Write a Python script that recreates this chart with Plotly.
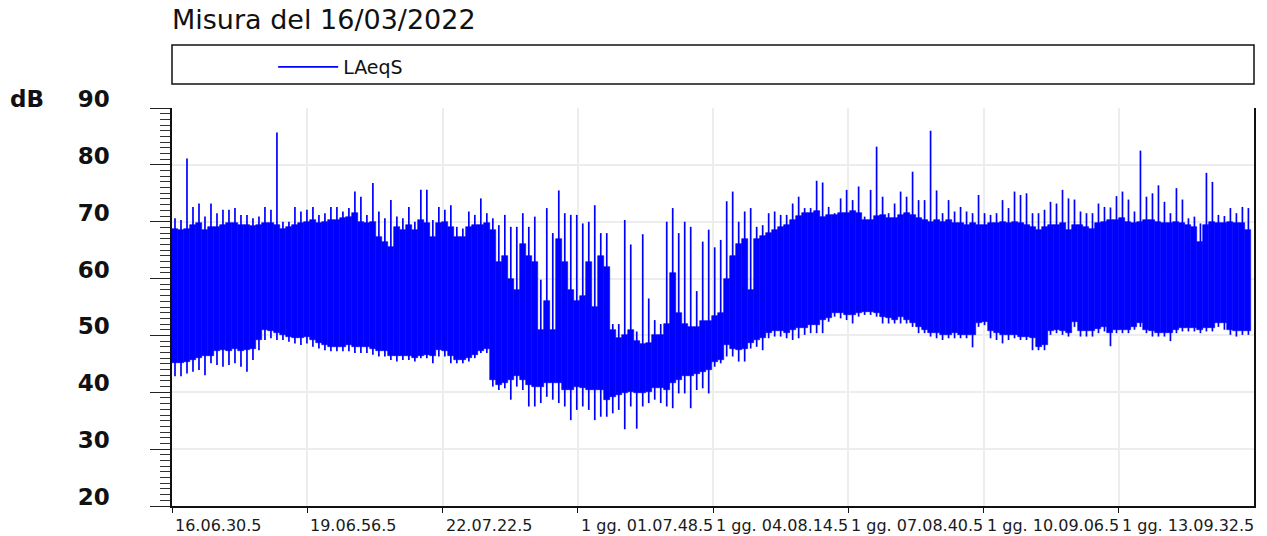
import plotly.graph_objects as go

# ---------------- data ----------------
title_text = "Misura del 16/03/2022"
series_name = "LAeqS"
y_unit = "dB"
start_label = "16.06.30.5"
bin_seconds = 480  # each value summarises an 8-minute slice of the LAeqS record

tick_labels = ["16.06.30.5", "19.06.56.5", "22.07.22.5", "1 gg. 01.07.48.5",
               "1 gg. 04.08.14.5", "1 gg. 07.08.40.5", "1 gg. 10.09.06.5",
               "1 gg. 13.09.32.5"]

# highest LAeqS reached within each slice (dB)
peak = [
    70.6, 70.3, 81.1, 72.6, 73.2, 70.9, 73.2, 71.5, 72.1, 72.1, 72.4, 71.2,
    71.2, 70.6, 70.9, 72.6, 72.1, 85.7, 70.0, 70.0, 72.6, 71.8, 72.1, 72.6,
    71.2, 71.5, 72.6, 72.6, 71.8, 72.4, 75.3, 74.4, 71.2, 76.8, 71.8, 70.6,
    73.8, 70.9, 70.6, 72.6, 70.0, 75.6, 75.6, 70.3, 72.6, 72.1, 72.9, 69.1,
    68.8, 71.8, 71.2, 74.1, 71.5, 70.6, 69.4, 71.2, 69.1, 69.1, 71.5, 69.1,
    70.9, 59.8, 72.4, 68.0, 75.5, 71.5, 71.2, 71.2, 69.7, 70.0, 72.9, 68.0,
    68.0, 52.0, 52.0, 70.3, 66.0, 50.7, 67.8, 56.5, 52.7, 52.0, 70.0, 72.4,
    68.0, 70.0, 69.1, 57.8, 66.5, 68.6, 65.5, 66.8, 73.6, 75.3, 70.0, 71.8,
    72.4, 69.1, 69.4, 71.5, 71.8, 71.2, 71.2, 73.2, 74.4, 72.4, 72.4, 77.2,
    76.9, 72.6, 71.5, 74.1, 75.6, 73.8, 76.2, 70.9, 75.6, 83.2, 74.4, 71.5,
    73.2, 75.3, 74.4, 78.8, 73.8, 73.8, 86.0, 75.5, 71.5, 73.8, 71.8, 72.6,
    71.8, 71.5, 74.7, 71.5, 71.2, 71.5, 73.8, 72.4, 75.3, 74.7, 75.0, 71.5,
    71.5, 72.1, 73.5, 73.2, 75.6, 74.1, 73.9, 71.8, 71.5, 71.5, 73.2, 72.6,
    72.5, 74.5, 75.3, 73.9, 71.8, 82.5, 74.4, 75.0, 76.4, 73.5, 71.5, 75.9,
    73.9, 70.6, 70.9, 69.7, 78.6, 77.0, 71.2, 71.0, 72.4, 71.5, 72.6, 72.4,
]
# upper edge of the dense part of each slice (dB)
core_hi = [
    68.8, 68.6, 68.8, 69.5, 69.7, 68.5, 69.1, 69.1, 69.5, 69.7, 69.7, 69.4,
    69.4, 69.2, 69.4, 69.7, 69.7, 69.4, 68.8, 69.1, 69.4, 69.7, 70.0, 70.3,
    69.7, 70.0, 70.3, 70.3, 70.6, 70.9, 71.5, 70.0, 69.7, 70.0, 67.4, 66.5,
    65.6, 69.1, 68.5, 69.4, 68.5, 70.3, 69.7, 67.4, 69.7, 70.0, 69.1, 67.4,
    67.4, 69.1, 69.4, 69.4, 69.7, 68.5, 63.0, 64.0, 60.0, 58.0, 66.0, 64.0,
    63.0, 51.0, 56.0, 51.0, 67.0, 63.0, 58.0, 56.0, 57.0, 63.0, 55.0, 64.0,
    62.0, 51.0, 49.5, 50.0, 51.0, 49.0, 48.5, 48.6, 50.0, 50.0, 52.0, 61.0,
    54.0, 52.0, 51.5, 51.5, 52.5, 52.5, 53.5, 54.0, 60.0, 64.0, 66.0, 67.0,
    58.0, 67.0, 67.5, 68.0, 68.5, 69.0, 69.4, 70.3, 71.0, 71.5, 71.5, 71.8,
    70.9, 71.2, 71.2, 71.5, 71.5, 71.8, 71.5, 70.3, 70.3, 71.0, 71.2, 70.6,
    70.6, 71.2, 71.5, 71.2, 70.6, 70.3, 70.0, 70.3, 70.0, 70.3, 69.7, 69.7,
    69.4, 69.7, 69.4, 69.4, 69.7, 69.7, 70.0, 69.7, 70.0, 69.7, 69.4, 69.1,
    68.5, 69.1, 69.4, 69.4, 69.7, 68.5, 69.4, 69.4, 69.1, 68.8, 69.7, 70.0,
    70.3, 70.3, 70.6, 70.0, 69.7, 70.0, 70.3, 70.3, 70.0, 69.7, 69.7, 70.0,
    69.7, 69.4, 69.1, 66.5, 69.4, 70.0, 69.7, 69.7, 70.0, 69.7, 69.7, 68.5,
]
# lower edge of the dense part of each slice (dB)
core_lo = [
    45.1, 45.1, 45.4, 45.7, 46.0, 46.3, 46.3, 47.2, 47.4, 47.2, 47.7, 47.2,
    47.4, 47.7, 49.2, 51.0, 50.7, 50.4, 50.1, 49.8, 49.5, 49.5, 49.8, 49.2,
    48.6, 48.3, 48.0, 48.0, 48.0, 48.3, 48.0, 48.0, 48.0, 47.7, 47.2, 47.2,
    46.3, 46.3, 46.3, 46.3, 46.0, 46.3, 46.6, 46.3, 47.4, 47.2, 46.3, 45.7,
    45.7, 46.0, 46.6, 47.2, 47.7, 42.2, 41.3, 41.6, 42.2, 42.8, 42.2, 41.3,
    41.0, 41.0, 41.6, 41.6, 41.6, 40.4, 40.4, 41.0, 40.7, 40.4, 40.4, 40.4,
    38.7, 39.2, 39.5, 39.8, 40.1, 39.8, 39.8, 40.1, 40.7, 40.7, 40.4, 41.6,
    42.2, 42.8, 42.8, 43.3, 43.6, 43.9, 45.4, 45.7, 48.3, 47.7, 47.4, 47.7,
    48.6, 49.2, 49.5, 50.4, 50.7, 50.7, 50.4, 51.0, 51.3, 51.3, 51.8, 51.8,
    52.7, 53.0, 54.0, 53.9, 53.6, 53.6, 54.0, 54.2, 54.2, 54.0, 53.3, 53.0,
    52.7, 53.3, 52.7, 52.1, 51.5, 51.0, 50.4, 50.4, 50.1, 50.1, 50.4, 50.1,
    50.1, 50.1, 52.1, 52.4, 50.7, 50.4, 50.1, 50.1, 50.1, 49.8, 49.8, 49.5,
    48.0, 48.3, 50.7, 51.0, 50.7, 50.4, 52.4, 50.7, 50.7, 50.7, 51.2, 51.5,
    50.4, 51.0, 51.0, 51.0, 51.5, 52.1, 51.0, 50.7, 50.4, 50.4, 50.4, 51.0,
    51.3, 51.3, 51.3, 51.0, 51.3, 51.3, 52.1, 52.1, 51.0, 50.7, 50.7, 50.7,
]
# lowest LAeqS reached within each slice (dB)
trough = [
    42.8, 42.8, 43.3, 43.6, 43.9, 43.0, 45.1, 44.8, 44.5, 44.8, 45.1, 44.5,
    43.6, 45.7, 47.4, 49.2, 49.5, 49.2, 49.2, 48.9, 48.6, 48.3, 48.6, 48.0,
    47.7, 47.4, 47.2, 47.2, 47.2, 47.2, 46.9, 46.9, 46.9, 46.6, 46.3, 46.3,
    45.7, 45.4, 45.7, 45.7, 45.4, 46.0, 46.0, 45.1, 46.3, 46.3, 45.1, 45.1,
    45.1, 45.4, 46.0, 46.9, 46.9, 41.0, 40.4, 40.7, 38.7, 41.0, 40.4, 37.5,
    37.5, 38.1, 39.2, 38.7, 38.1, 37.5, 35.1, 36.9, 37.5, 36.9, 35.1, 35.7,
    35.7, 36.3, 36.9, 33.5, 37.5, 33.6, 37.5, 38.1, 38.7, 38.1, 37.5, 37.2,
    39.8, 39.8, 37.2, 40.4, 40.7, 39.8, 44.5, 45.1, 46.3, 46.3, 45.4, 45.4,
    47.7, 48.0, 47.4, 49.5, 49.8, 49.8, 49.5, 49.2, 49.5, 50.1, 50.4, 50.4,
    50.4, 52.4, 53.3, 53.0, 52.7, 52.1, 53.3, 53.6, 53.6, 53.3, 52.1, 52.1,
    52.1, 52.1, 52.1, 51.5, 50.4, 50.4, 49.8, 49.5, 49.2, 49.5, 49.5, 49.5,
    49.5, 47.9, 51.5, 51.8, 49.5, 49.2, 48.6, 49.2, 49.5, 49.2, 49.2, 47.4,
    47.4, 47.4, 50.1, 50.4, 50.1, 49.8, 51.5, 49.8, 49.8, 49.8, 50.4, 50.7,
    48.1, 50.4, 50.4, 50.4, 51.0, 51.5, 50.4, 49.8, 49.8, 49.8, 49.0, 50.4,
    50.7, 50.7, 50.7, 50.4, 50.7, 50.7, 51.5, 51.0, 50.1, 49.8, 50.1, 50.1,
]

y_range = [20, 90]

assert len(peak) == len(core_hi) == len(core_lo) == len(trough), (
    len(peak), len(core_hi), len(core_lo), len(trough))


# ---------------- helpers ----------------
def label_seconds(lbl):
    days = 0
    if "gg." in lbl:
        d, rest = lbl.split("gg.")
        days = int(d.strip())
        lbl = rest.strip()
    h, m, s, frac = lbl.split(".")
    return days * 86400 + int(h) * 3600 + int(m) * 60 + int(s) + int(frac) / 10.0


t_start = label_seconds(start_label)
tick_pos = [label_seconds(l) - t_start for l in tick_labels]
x_end = tick_pos[-1] + (tick_pos[1] - tick_pos[0])

n = len(peak)
centers = [(i + 0.5) * bin_seconds for i in range(n)]

BLUE = "#0000ff"
FONT = "DejaVu Sans"

fig = go.Figure()

# dense part of the trace
fig.add_trace(go.Bar(
    x=centers,
    y=[h - l for h, l in zip(core_hi, core_lo)],
    base=core_lo,
    width=bin_seconds,
    marker=dict(color=BLUE, line=dict(color=BLUE, width=0.6)),
    showlegend=False,
    hoverinfo="skip",
))

# excursions to the slice minimum / maximum
wx, wy = [], []
for c, lo, hi in zip(centers, trough, peak):
    wx += [c, c, None]
    wy += [lo, hi, None]
fig.add_trace(go.Scatter(
    x=wx, y=wy, mode="lines", name=series_name,
    line=dict(color=BLUE, width=1.7),
    hoverinfo="skip",
))

# x tick labels, left-aligned on their ticks
for pos, lbl in zip(tick_pos, tick_labels):
    fig.add_annotation(
        x=pos, xref="x", y=-0.048, yref="paper",
        text=lbl, showarrow=False, xanchor="left", yanchor="middle",
        xshift=1, font=dict(family=FONT, size=16, color="#1a1a1a"),
    )

# unit label
fig.add_annotation(
    x=-0.152, xref="paper", y=1.0226, yref="paper",
    text=y_unit, showarrow=False, xanchor="left", yanchor="middle",
    font=dict(family=FONT, size=23, color="#111111", weight="bold"),
)

# legend frame
fig.add_shape(type="rect", xref="paper", yref="paper",
              x0=0, x1=1, y0=1.0603, y1=1.1583,
              line=dict(color="#111111", width=1.5), fillcolor="rgba(0,0,0,0)")

fig.update_layout(
    width=1267, height=536,
    margin=dict(l=172, r=13, t=108, b=30),
    paper_bgcolor="white", plot_bgcolor="white",
    bargap=0,
    title=dict(text=title_text, x=0, xref="paper", xanchor="left",
               y=0.9627, yref="container", yanchor="middle",
               font=dict(family=FONT, size=27, color="#111111")),
    showlegend=True,
    legend=dict(x=0.0935, y=1.103, xref="paper", yref="paper",
                xanchor="left", yanchor="middle", orientation="h",
                bgcolor="rgba(0,0,0,0)", borderwidth=0, itemwidth=60,
                font=dict(family=FONT, size=19, color="#111111")),
    xaxis=dict(
        range=[0, x_end], tickvals=tick_pos, showticklabels=False,
        ticks="outside", ticklen=5, tickwidth=1.2, tickcolor="#111111",
        showline=True, linecolor="#111111", linewidth=1.5,
        showgrid=True, gridcolor="#ededed", gridwidth=1.5, zeroline=False,
    ),
    yaxis=dict(
        range=y_range, tick0=20, dtick=10,
        ticks="outside", ticklen=20, tickwidth=1.2, tickcolor="#222222",
        minor=dict(dtick=1, ticklen=10, ticks="outside", tickwidth=1,
                   tickcolor="#333333", showgrid=False),
        showline=True, linecolor="#111111", linewidth=1.5, mirror=True,
        showgrid=True, gridcolor="#ededed", gridwidth=1.5, zeroline=False,
        tickfont=dict(family=FONT, size=23, color="#111111", weight="bold"),
        ticklabelstandoff=36, ticklabelshift=-9,
    ),
)

fig.write_html("out.html", config={"displayModeBar": False},
               post_script="document.body.style.margin='0px';")
